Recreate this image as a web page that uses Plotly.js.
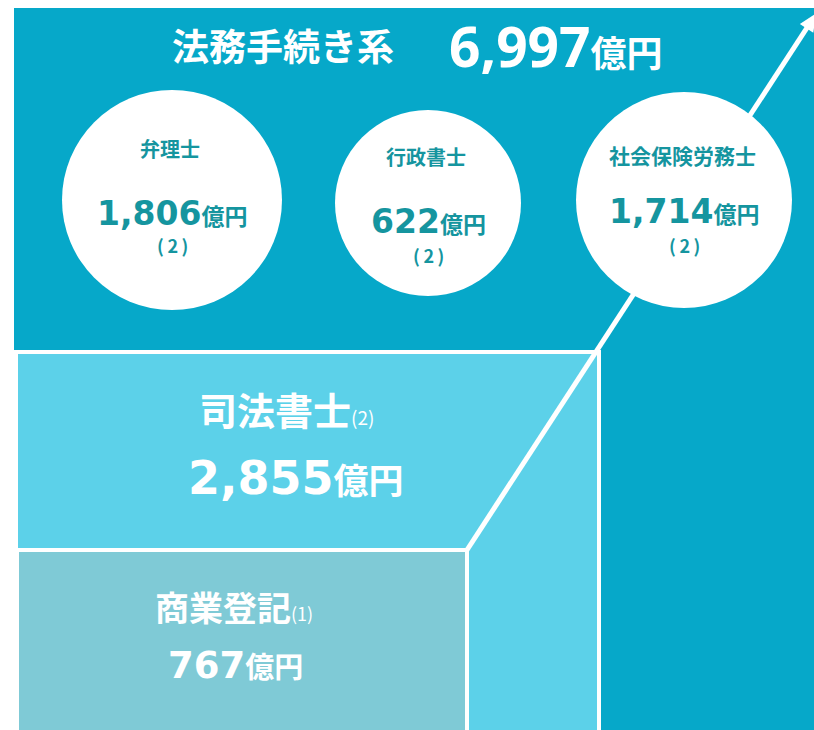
<!DOCTYPE html>
<html>
<head>
<meta charset="utf-8">
<script src="https://cdn.plot.ly/plotly-3.0.1.min.js"></script>
<style>html,body{margin:0;padding:0;background:#fff;}</style>
</head>
<body>
<div id="chart" style="width:814px;height:730px;"></div>
<script>
// ---- data ----
const groupName = '法務手続き系';
const groupTotal = 6997;
const circleCategories = ['弁理士', '行政書士', '社会保険労務士'];
const circleValues = [1806, 622, 1714];
const circleNotes = ['(2)', '(2)', '(2)'];
const boxCategories = ['司法書士', '商業登記'];
const boxValues = [2855, 767];
const boxNotes = ['(2)', '(1)'];
const unit = '億円';

// ---- layout geometry & styles ----
const DARK = '#06a8c9', LIGHT = '#5cd1e9', MUTED = '#7fcad6', TEAL = '#15959f', WHITE = '#ffffff';
const NUMFONT = "'DejaVu Sans'";
const fmt = v => v.toLocaleString('en-US');
const spaced = s => s.split('').join('\u2009');

const circleGeom = [
  {cx: 172, cy: 200, r: 110, ty: 148, tsize: 20, ny: 213, py: 245},
  {cx: 428, cy: 203, r: 93, ty: 156, tsize: 20, ny: 221, py: 255},
  {cx: 684, cy: 200, r: 108, ty: 155, tsize: 21, ny: 211, py: 245}
];
const boxGeom = [
  {x0: 16, y0: 352, x1: 599, y1: 740, fill: LIGHT, tx: 286, ty: 408, nx: 296, ny: 478, tsize: 38, psize: 19, nsize: 46, usize: 35},
  {x0: 17, y0: 550, x1: 467, y1: 740, fill: MUTED, tx: 234, ty: 606, nx: 235, ny: 665, tsize: 34, psize: 18, nsize: 37, usize: 29}
];

const shapes = [];
const annotations = [];

// outer group rectangle
shapes.push({type: 'rect', xref: 'x', yref: 'y', x0: 14, y0: 8, x1: 830, y1: 740, fillcolor: DARK, line: {width: 0}, layer: 'below'});
// inner boxes
boxGeom.forEach(g => {
  shapes.push({type: 'rect', xref: 'x', yref: 'y', x0: g.x0, y0: g.y0, x1: g.x1, y1: g.y1, fillcolor: g.fill, line: {color: WHITE, width: 4}, layer: 'below'});
});
// arrow line
const ax0 = 467, ay0 = 550, ax1 = 812, ay1 = 20;
shapes.push({type: 'line', xref: 'x', yref: 'y', x0: ax0, y0: ay0, x1: ax1, y1: ay1, line: {color: WHITE, width: 5}, layer: 'below'});
// arrow head
(function () {
  const dx = ax1 - ax0, dy = ay1 - ay0, L = Math.hypot(dx, dy);
  const ux = dx / L, uy = dy / L;
  const tipx = ax1 + ux * 8, tipy = ay1 + uy * 8;
  const bx = tipx - ux * 18, by = tipy - uy * 18;
  const px = -uy * 8, py = ux * 8;
  shapes.push({type: 'path', xref: 'x', yref: 'y',
    path: `M ${tipx} ${tipy} L ${bx + px} ${by + py} L ${bx - px} ${by - py} Z`,
    fillcolor: WHITE, line: {width: 0}, layer: 'below'});
})();
// circles
circleGeom.forEach(g => {
  shapes.push({type: 'circle', xref: 'x', yref: 'y', x0: g.cx - g.r, x1: g.cx + g.r, y0: g.cy - g.r, y1: g.cy + g.r, fillcolor: WHITE, line: {width: 0}, layer: 'below'});
});

function ann(x, y, text, size, color) {
  annotations.push({xref: 'x', yref: 'y', x: x, y: y, text: text, showarrow: false,
    xanchor: 'center', yanchor: 'middle', font: {family: 'Noto Sans CJK JP', size: size, color: color}});
}

// title
ann(283, 45, '<b>' + groupName + '</b>', 37, WHITE);
ann(556, 45, `<b><span style="font-family:'Open Sans';font-size:55px">${fmt(groupTotal)}</span>${unit}</b>`, 36, WHITE);

// circle texts
circleCategories.forEach((c, i) => {
  const g = circleGeom[i];
  ann(g.cx - 2, g.ty, '<b>' + c + '</b>', g.tsize, TEAL);
  ann(g.cx, g.ny, `<b><span style="font-family:${NUMFONT};font-size:33px">${fmt(circleValues[i])}</span>${unit}</b>`, 23, TEAL);
  ann(g.cx, g.py, '<b>' + spaced(circleNotes[i]) + '</b>', 18, TEAL);
});

// box texts
boxCategories.forEach((c, i) => {
  const g = boxGeom[i];
  ann(g.tx, g.ty, `<b>${c}</b><span style="font-size:${g.psize}px">${boxNotes[i]}</span>`, g.tsize, WHITE);
  ann(g.nx, g.ny, `<b><span style="font-family:${NUMFONT};font-size:${g.nsize}px">${fmt(boxValues[i])}</span>${unit}</b>`, g.usize, WHITE);
});

const layout = {
  width: 814, height: 730,
  margin: {l: 0, r: 0, t: 0, b: 0},
  paper_bgcolor: WHITE, plot_bgcolor: WHITE,
  xaxis: {range: [0, 814], visible: false, fixedrange: true},
  yaxis: {range: [730, 0], visible: false, fixedrange: true},
  shapes: shapes,
  annotations: annotations,
  showlegend: false
};

Plotly.newPlot('chart', [], layout, {staticPlot: true, displayModeBar: false});
</script>
</body>
</html>
